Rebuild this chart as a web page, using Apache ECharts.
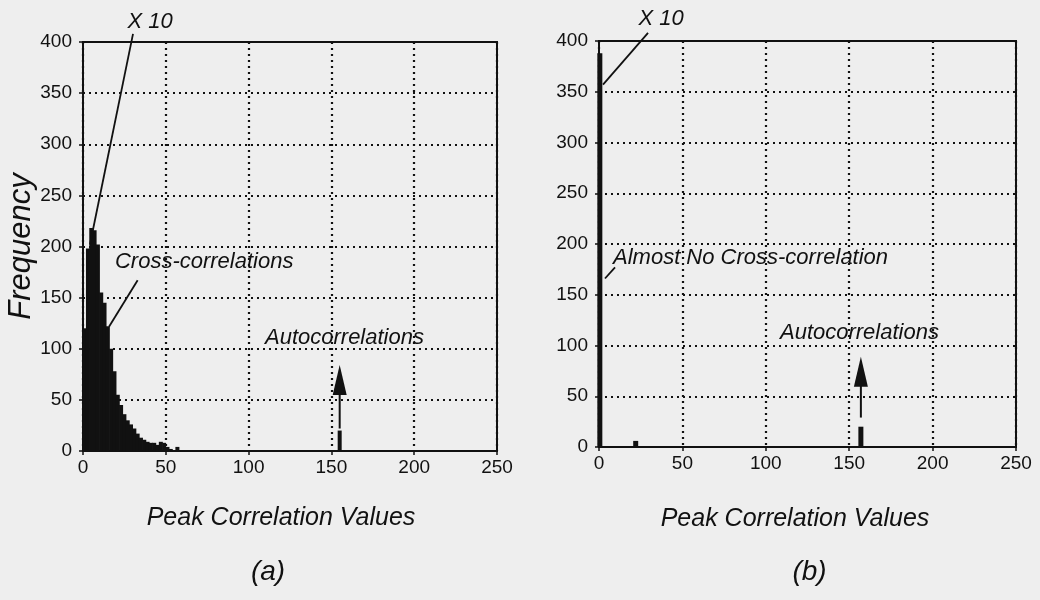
<!DOCTYPE html>
<html>
<head>
<meta charset="utf-8">
<script src="https://cdn.jsdelivr.net/npm/echarts@6/dist/echarts.min.js"></script>
<style>
  html, body { margin: 0; background: #eeeeee; }
  #chart { width: 1040px; height: 600px; }
</style>
</head>
<body>
<div id="chart"></div>
<script>
// (a) histogram of peak correlation values, bins 2 wide
const binCenters = [1, 3, 5, 7, 9, 11, 13, 15, 17, 19, 21, 23, 25, 27, 29, 31, 33, 35, 37, 39, 41, 43, 45, 47, 49, 51, 53, 55, 57];
const binCounts = [120, 198, 218, 216, 202, 155, 145, 122, 100, 78, 55, 45, 36, 30, 26, 22, 17, 13, 11, 9, 8, 8, 6, 9, 8, 4, 2, 1, 4];
const autoValuesA = [155];
const autoCountsA = [20];

// (b) almost no cross-correlation
const peakValuesB = [0.5, 22, 157];
const peakCountsB = [388, 6, 20];

const xTicks = { min: 0, max: 250, interval: 50 };
const yTicks = { min: 0, max: 400, interval: 50 };

const FONT = "'Liberation Sans', Arial, sans-serif";
const INK = "#111";

const chartDom = document.getElementById("chart");
const myChart = echarts.init(chartDom);

function pairs(xs, ys) {
  return xs.map((x, i) => [x, ys[i]]);
}

function makeXAxis(gridIndex, gap, padRight) {
  return {
    type: "value",
    gridIndex: gridIndex,
    min: xTicks.min,
    max: xTicks.max,
    interval: xTicks.interval,
    name: "Peak Correlation Values",
    nameLocation: "middle",
    nameGap: gap,
    nameTextStyle: {
      fontFamily: FONT,
      fontStyle: "italic",
      fontSize: 25,
      color: INK,
      padding: [0, padRight, 0, 0],
    },
    axisLine: { show: true, onZero: false, lineStyle: { color: INK, width: 2 } },
    axisTick: { show: true, length: 4, lineStyle: { color: INK, width: 1.5 } },
    axisLabel: { margin: 7, fontFamily: FONT, fontSize: 19, color: INK },
    splitLine: {
      show: true,
      lineStyle: { color: INK, width: 2.2, type: [2, 4] },
    },
  };
}

function makeYAxis(gridIndex, withName) {
  const axis = {
    type: "value",
    gridIndex: gridIndex,
    min: yTicks.min,
    max: yTicks.max,
    interval: yTicks.interval,
    axisLine: { show: true, lineStyle: { color: INK, width: 2 } },
    axisTick: { show: true, length: 4, lineStyle: { color: INK, width: 1.5 } },
    axisLabel: { margin: 11, fontFamily: FONT, fontSize: 19, color: INK },
    splitLine: {
      show: true,
      lineStyle: { color: INK, width: 2.2, type: [2, 4] },
    },
  };
  if (withName) {
    axis.name = "Frequency";
    axis.nameLocation = "middle";
    axis.nameGap = 46;
    axis.nameTextStyle = {
      fontFamily: FONT,
      fontStyle: "italic",
      fontSize: 31,
      color: INK,
    };
  }
  return axis;
}

const option = {
  backgroundColor: "#eeeeee",
  animation: false,
  grid: [
    { left: 83, right: 543, top: 42, bottom: 149, show: true, borderColor: INK, borderWidth: 2 },
    { left: 599, right: 24, top: 41, bottom: 153, show: true, borderColor: INK, borderWidth: 2 },
  ],
  xAxis: [makeXAxis(0, 55, 18), makeXAxis(1, 60, 25)],
  yAxis: [makeYAxis(0, true), makeYAxis(1, false)],
  series: [
    {
      type: "bar",
      xAxisIndex: 0,
      yAxisIndex: 0,
      barWidth: 4,
      itemStyle: { color: INK },
      data: pairs(binCenters, binCounts).concat(pairs(autoValuesA, autoCountsA)),
    },
    {
      type: "bar",
      xAxisIndex: 1,
      yAxisIndex: 1,
      barWidth: 5,
      itemStyle: { color: INK },
      data: pairs(peakValuesB, peakCountsB),
    },
  ],
};
myChart.setOption(option);

// annotations, placed in data coordinates of each grid
const labels = [
  { grid: 0, at: [40.5, 420], text: "X 10", align: "center" },
  { grid: 1, at: [37.2, 422], text: "X 10", align: "center" },
  { grid: 0, at: [19.3, 185], text: "Cross-correlations", align: "left" },
  { grid: 0, at: [109.9, 111], text: "Autocorrelations", align: "left" },
  { grid: 1, at: [8.4, 186], text: "Almost No Cross-correlation", align: "left" },
  { grid: 1, at: [108.5, 112], text: "Autocorrelations", align: "left" },
];
const leaders = [
  { grid: 0, from: [30.2, 408], to: [4.2, 202] },
  { grid: 1, from: [29.4, 408], to: [2.4, 357] },
  { grid: 0, from: [33, 167], to: [15.7, 121.6] },
  { grid: 1, from: [9.6, 177], to: [3.6, 166] },
];
const arrows = [
  { grid: 0, from: [155, 22], to: [155, 84] },
  { grid: 1, from: [157, 29], to: [157, 89] },
];
const captions = [
  { grid: 0, text: "(a)", dx: -22 },
  { grid: 1, text: "(b)", dx: 2 },
];

function toPx(grid, pt) {
  return myChart.convertToPixel({ gridIndex: grid }, pt);
}

const graphics = [];
labels.forEach((l) => {
  const p = toPx(l.grid, l.at);
  graphics.push({
    type: "text",
    x: p[0],
    y: p[1],
    z: 100,
    style: {
      text: l.text,
      fill: INK,
      fontFamily: FONT,
      fontStyle: "italic",
      fontSize: 22,
      align: l.align,
      verticalAlign: "middle",
    },
  });
});
leaders.forEach((l) => {
  const a = toPx(l.grid, l.from);
  const b = toPx(l.grid, l.to);
  graphics.push({
    type: "line",
    z: 100,
    shape: { x1: a[0], y1: a[1], x2: b[0], y2: b[1] },
    style: { stroke: INK, lineWidth: 1.8 },
  });
});
arrows.forEach((ar) => {
  const a = toPx(ar.grid, ar.from);
  const b = toPx(ar.grid, ar.to);
  graphics.push({
    type: "line",
    z: 100,
    shape: { x1: a[0], y1: a[1], x2: b[0], y2: b[1] + 20 },
    style: { stroke: INK, lineWidth: 2 },
  });
  graphics.push({
    type: "polygon",
    z: 100,
    shape: { points: [[b[0], b[1]], [b[0] - 7, b[1] + 30], [b[0] + 7, b[1] + 30]] },
    style: { fill: INK },
  });
});
captions.forEach((c) => {
  const mid = toPx(c.grid, [125, 0]);
  graphics.push({
    type: "text",
    x: mid[0] + c.dx,
    y: 572,
    style: {
      text: c.text,
      fill: INK,
      fontFamily: FONT,
      fontStyle: "italic",
      fontSize: 28,
      align: "center",
      verticalAlign: "middle",
    },
  });
});
myChart.setOption({ graphic: graphics });
</script>
</body>
</html>
